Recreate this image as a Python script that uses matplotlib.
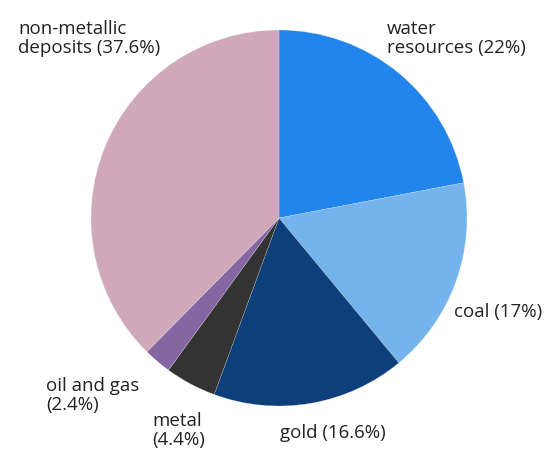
import matplotlib
matplotlib.use('Agg')
import matplotlib.pyplot as plt

# data
categories = ['water\nresources', 'coal', 'gold', 'metal\n', 'oil and gas\n', 'non-metallic\ndeposits']
shares = [22, 17, 16.6, 4.4, 2.4, 37.6]
colors = ['#2185EB', '#74B3EC', '#0D3F7A', '#333333', '#8566A2', '#CFA9BA']

# label anchors in pixels (left edge, last-line baseline)
label_pos = [(387, 53), (454, 317), (280, 438), (152, 445), (46, 410), (18, 53)]

plt.rcParams['font.family'] = ['Open Sans', 'DejaVu Sans']

W, H = 547, 450
fig = plt.figure(figsize=(W / 100, H / 100), dpi=100)
cx, cy, r = 279, 218, 188
ax = fig.add_axes([(cx - r) / W, (H - cy - r) / H, 2 * r / W, 2 * r / H])
ax.pie(shares, colors=colors, startangle=90, counterclock=False,
       wedgeprops=dict(edgecolor='#eeeeee', linewidth=0.15))
ax.set_xlim(-1, 1)
ax.set_ylim(-1, 1)
ax.set_aspect('equal')
ax.axis('off')

for cat, val, (x, y) in zip(categories, shares, label_pos):
    sep = '' if cat.endswith('\n') else ' '
    txt = f'{cat}{sep}({val:g}%)'
    fig.text(x / W, 1 - y / H, txt, ha='left', va='baseline', fontsize=13.5,
             color='#222222', linespacing=1.1)

fig.savefig('out.png', dpi=100)
